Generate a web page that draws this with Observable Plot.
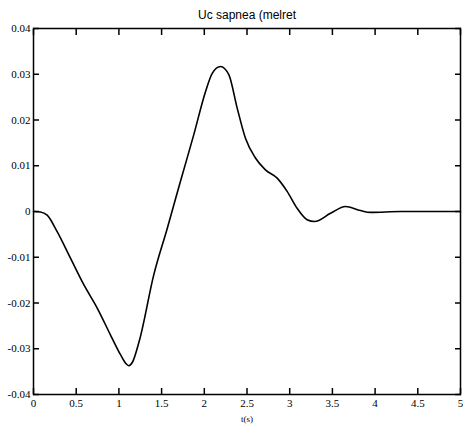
<!DOCTYPE html>
<html>
<head>
<meta charset="utf-8">
<script src="https://cdn.jsdelivr.net/npm/d3@7"></script>
<script src="https://cdn.jsdelivr.net/npm/@observablehq/plot@0.6"></script>
<style>
  html, body { margin: 0; padding: 0; background: #fff; }
</style>
</head>
<body>
<div id="chart"></div>
<script>
const title = "Uc sapnea (melret";
const xLabel = "t(s)";
const xTicks = [0, 0.5, 1, 1.5, 2, 2.5, 3, 3.5, 4, 4.5, 5];
const xTickLabels = ["0", "0.5", "1", "1.5", "2", "2.5", "3", "3.5", "4", "4.5", "5"];
const yTicks = [-0.04, -0.03, -0.02, -0.01, 0, 0.01, 0.02, 0.03, 0.04];
const yTickLabels = ["-0.04", "-0.03", "-0.02", "-0.01", "0", "0.01", "0.02", "0.03", "0.04"];

const tValues = [0, 0.08, 0.16, 0.277, 0.433, 0.589, 0.746, 0.902, 1.019, 1.08, 1.116, 1.16, 1.24, 1.409, 1.566, 1.721, 1.877, 2.014, 2.093, 2.19, 2.287, 2.385, 2.482, 2.599, 2.716, 2.853, 2.97, 3.087, 3.204, 3.29, 3.478, 3.653, 3.829, 3.946, 4.3, 5];
const ucValues = [0, -0.0001, -0.0008, -0.0044, -0.0102, -0.016, -0.0211, -0.027, -0.0313, -0.0332, -0.0337, -0.0329, -0.0282, -0.0138, -0.0037, 0.0066, 0.0168, 0.0262, 0.0302, 0.0317, 0.0299, 0.0226, 0.016, 0.0117, 0.0091, 0.0073, 0.0044, 0.0007, -0.0018, -0.0022, -0.0004, 0.0011, 0.0002, -0.0002, 0, 0];

const data = tValues.map((t, i) => ({t, v: ucValues[i]}));
const font = "Liberation Serif";
const xMin = xTicks[0], xMax = xTicks[xTicks.length - 1];
const yMin = yTicks[0], yMax = yTicks[yTicks.length - 1];
const tk = 6;
const tickStyle = {tickSize: tk, text: null, label: null, stroke: "#000", strokeWidth: 1.5};

const chart = Plot.plot({
  width: 463,
  height: 428,
  marginTop: 28,
  marginLeft: 33,
  marginRight: 3,
  marginBottom: 34,
  style: {fontFamily: font, fontSize: "11px", color: "#000", background: "#fff"},
  x: {domain: [xMin, xMax]},
  y: {domain: [yMin, yMax]},
  marks: [
    Plot.axisX(xTicks, {anchor: "bottom", tickSize: 0, tickPadding: 5, tickFormat: (d, i) => xTickLabels[i], label: null, fontFamily: font, fontSize: 11}),
    Plot.axisY(yTicks, {anchor: "left", tickSize: 0, tickPadding: 3, tickFormat: (d, i) => yTickLabels[i], label: null, fontFamily: font, fontSize: 11}),
    Plot.axisX(xTicks, {anchor: "bottom", dy: -tk, ...tickStyle}),
    Plot.axisX(xTicks, {anchor: "top", dy: tk, ...tickStyle}),
    Plot.axisY(yTicks, {anchor: "left", dx: tk, ...tickStyle}),
    Plot.axisY(yTicks, {anchor: "right", dx: -tk, ...tickStyle}),
    Plot.frame({stroke: "#000", strokeWidth: 1.5}),
    Plot.line(data, {x: "t", y: "v", curve: "monotone-x", stroke: "#000", strokeWidth: 1.6}),
    Plot.text([title], {frameAnchor: "top", dy: -18, fontFamily: "Liberation Sans", fontSize: 12, fill: "#000"}),
    Plot.text([xLabel], {frameAnchor: "bottom", dy: 27, fontFamily: font, fontSize: 9, fill: "#000"})
  ]
});
document.getElementById("chart").appendChild(chart);
</script>
</body>
</html>
